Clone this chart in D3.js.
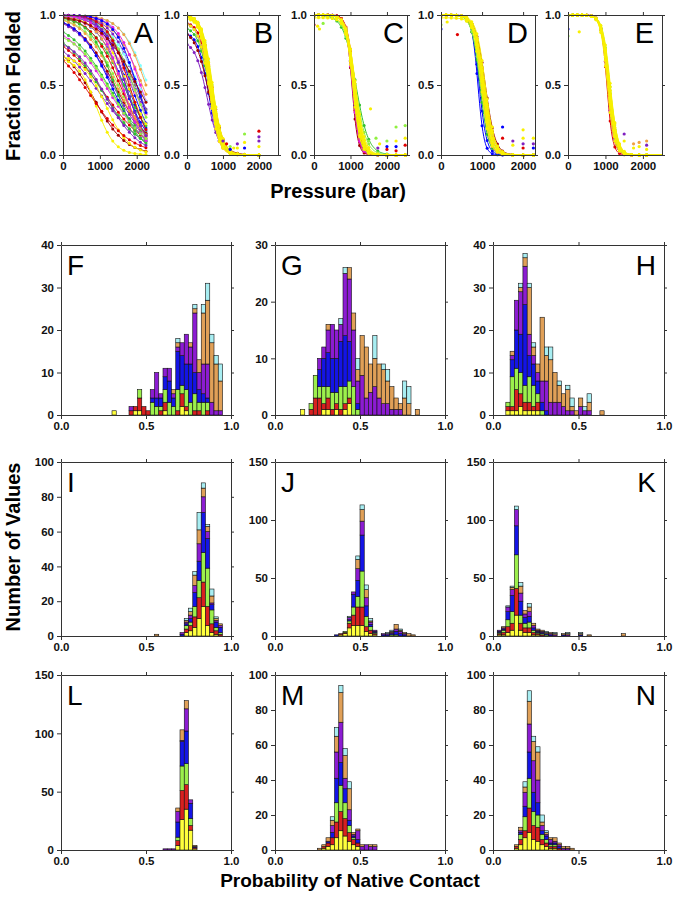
<!DOCTYPE html>
<html><head><meta charset="utf-8">
<script src="https://cdn.jsdelivr.net/npm/d3@7"></script>
<style>
body{margin:0;background:#fff;}
svg text{font-family:"Liberation Sans",Arial,Helvetica,sans-serif;}
.tick text{font-weight:bold;font-size:11.5px;fill:#111;}
.axis path,.axis line{stroke:#333;}
</style></head><body>
<svg id="c" width="677" height="903"></svg>
<script>
// ---------- histogram data: [binIndex, yellow, red, green, blue, purple, orange, cyan] ----------
const LAYER_COLORS = ["#ffff3c","#d82020","#9cef4c","#1414e6","#8c1cd2","#e0a058","#a8eef2"];
const BIN = 0.025;
const probTicks = [0, 0.5, 1];

const histF = [
 [12,1,0,0,0,0,0,0],[16,0,1,0,0,1,0,0],[17,1,1,0,0,0,0,0],[18,1,3,2,0,0,0,0],[19,0,2,0,0,0,0,0],
 [20,0,1,0,0,0,0,0],[21,0,0,3,1,2,0,0],[22,0,0,2,2,6,0,0],[23,0,1,1,2,1,0,0],[24,1,2,3,3,2,0,0],
 [25,0,0,3,5,3,0,0],[26,0,0,2,2,1,1,0],[27,0,1,5,9,1,1,1],[28,2,3,2,7,3,0,0],[29,1,1,4,6,7,0,0],
 [30,0,0,3,9,4,1,0],[31,0,1,4,5,14,1,1],[32,0,1,2,3,4,3,0],[33,0,0,3,2,7,12,2],[34,0,1,2,1,8,15,4],
 [35,0,0,0,0,3,14,2],[36,0,0,0,0,1,11,2],[37,0,0,0,0,1,7,4]
];
const histG = [
 [6,1,0,0,0,0,0,0],[8,0,1,1,0,0,0,0],[9,0,3,4,0,0,0,0],[10,0,3,2,3,2,0,0],[11,1,1,3,5,2,0,0],
 [12,1,2,2,6,4,1,0],[13,0,1,3,6,6,0,0],[14,1,1,2,6,5,0,0],[15,0,1,4,8,3,0,1],[16,1,1,3,9,11,0,1],
 [17,2,1,3,7,11,2,0],[18,0,0,5,0,10,3,0],[19,0,0,1,1,4,2,2],[20,0,0,0,0,7,7,0],[21,0,0,0,0,3,9,0],
 [22,0,0,0,0,4,5,0],[23,0,0,0,0,5,5,4],[24,0,0,0,0,3,6,0],[25,0,0,0,0,2,6,1],[26,0,0,0,0,2,4,2],
 [27,0,0,0,0,1,4,0],[28,0,0,0,0,1,2,0],[29,0,0,0,0,1,1,0],[30,0,0,0,0,0,3,3],[31,0,0,0,0,0,2,3],
 [33,0,0,0,0,0,1,0]
];
const histH = [
 [3,1,1,1,0,0,0,0],[4,1,1,7,4,1,1,0],[5,1,5,5,9,7,0,0],[6,2,3,5,9,10,1,1],[7,1,2,4,19,9,2,1],
 [8,1,2,6,5,5,11,1],[9,1,1,5,5,2,2,1],[10,1,2,2,3,2,2,0],[11,0,0,1,2,5,15,0],[12,0,0,0,1,7,6,2],
 [13,0,0,0,0,3,10,3],[14,0,0,0,0,3,7,0],[15,0,0,0,0,3,4,1],[16,0,0,0,0,2,3,0],[17,0,0,0,0,1,5,1],
 [18,0,0,0,0,1,1,2],[19,0,0,0,0,0,1,0],[20,0,0,0,0,2,2,0],[21,0,0,0,0,1,0,1],[22,0,0,0,0,1,2,2],
 [25,0,0,0,0,0,1,0]
];
const histI = [
 [22,0,0,0,0,0,1,0],[28,0,0,0,1,1,0,0],[29,2,2,2,1,1,1,1],[30,3,3,2,2,2,2,2],[31,5,6,6,8,4,6,2],
 [32,10,12,10,11,10,8,10],[33,17,14,17,23,9,5,3],[34,6,11,22,17,4,3,1],[35,2,5,8,3,1,4,4],
 [36,1,2,2,3,1,1,1],[37,0,1,1,3,1,1,0]
];
const histJ = [
 [14,0,0,0,1,0,0,0],[15,1,1,0,0,0,0,0],[16,2,1,1,0,0,0,0],[17,7,4,2,1,2,0,1],[18,9,9,7,11,2,0,0],
 [19,9,16,9,14,10,8,3],[20,9,16,31,31,12,10,4],[21,4,4,9,9,7,7,4],[22,2,3,3,2,2,1,2],[23,1,1,1,1,1,0,0],
 [25,0,0,0,1,1,0,0],[26,0,0,0,1,1,0,1],[27,0,0,1,1,1,1,1],[28,0,0,1,3,2,4,0],[29,0,0,0,2,2,1,1],
 [30,0,0,0,1,1,1,0],[31,0,0,0,0,0,2,0],[32,0,0,0,0,0,1,0]
];
const histK = [
 [1,1,1,1,1,1,0,0],[2,1,2,2,1,1,1,0],[3,3,5,6,7,4,0,1],[4,5,6,10,14,5,2,1],[5,18,23,29,25,14,0,3],
 [6,5,6,7,12,7,6,3],[7,3,4,4,5,3,3,0],[8,3,4,5,5,4,4,3],[9,1,2,2,2,2,2,0],[10,1,1,1,1,1,1,0],
 [11,0,1,1,1,1,1,0],[12,0,0,1,1,0,1,1],[13,0,0,0,1,1,1,0],[14,0,0,0,0,1,1,1],[16,0,0,0,1,0,1,0],
 [17,0,0,0,0,1,1,1],[20,0,0,0,1,0,1,1],[22,0,0,0,0,0,1,0],[30,0,0,0,0,0,2,0]
];
const histL = [
 [24,0,0,0,0,1,0,0],[25,0,0,0,0,1,0,0],[26,0,0,0,0,1,0,0],[27,4,4,3,13,9,3,0],
 [28,26,25,21,21,1,9,0],[29,35,21,18,28,19,7,0],[30,17,4,6,13,3,0,0],[31,1,1,0,1,0,1,0]
];
const histM = [
 [10,0,0,0,0,0,1,0],[11,1,1,0,0,0,1,0],[12,2,2,0,1,0,2,0],[13,3,4,0,3,4,3,2],[14,7,9,11,14,15,9,5],
 [15,11,11,15,13,23,17,4],[16,8,10,9,8,6,13,4],[17,5,5,4,3,6,12,4],[18,3,3,1,1,1,1,0],[19,2,2,0,2,5,1,0],
 [20,0,0,0,0,2,1,0],[21,0,0,0,0,3,0,0],[22,0,0,0,0,2,1,0],[23,0,0,0,0,2,1,0]
];
const histN = [
 [5,1,1,0,0,0,1,0],[6,3,3,3,1,1,2,0],[7,7,4,8,6,8,3,3],[8,10,14,17,15,16,13,6],[9,6,8,8,11,18,11,3],
 [10,5,8,7,7,13,16,3],[11,3,3,3,2,3,2,4],[12,2,2,2,2,1,1,1],[13,1,1,1,1,2,1,0],[14,1,1,1,1,1,2,0],
 [15,0,1,0,1,1,1,0],[16,0,0,0,0,1,1,0],[17,0,0,0,0,1,1,0],[18,0,0,0,0,0,1,0]
];
const ticks40 = [0,10,20,30,40];
const ticks30 = [0,10,20,30];
const ticks100 = [0,20,40,60,80,100];
const ticks150 = [0,50,100,150];

// ---------- unfolding curves: [color, plateau, midpoint pressure (bar), width (bar)] ----------
const R="#e00000", DR="#a00000", O="#f0a040", Y="#f8f000", G="#30c030", LG="#90f040",
      C="#80ffff", B="#0000ff", P="#8020c0", M="#e020e0", PK="#ff80c0", GR="#808080";
const pressureTicks = [0, 1000, 2000];
const fracTicks = [0, 0.5, 1];
const curvesA = [
 [C,1,2300,350],[O,1,2250,330],[O,1,2150,380],[M,1,2100,320],[P,1,2000,350],[P,1,1900,400],
 [B,1,1850,330],[B,1,1750,350],[B,1,1650,380],[B,1,1700,300],[G,1,1650,450],[LG,1,1500,450],
 [R,1,1550,400],[DR,1,1400,500],[O,1,1450,450],[P,1,1350,500],[Y,1,1750,400],[PK,1,1850,450],
 [GR,1,1950,400],[G,0.97,1250,550],[M,0.95,1200,550],[B,1,1300,450],[R,0.9,1100,600],[P,0.88,1000,600],
 [G,0.92,1050,550],[DR,0.8,850,420],[Y,0.7,900,250],[Y,0.72,1150,320],[R,0.85,750,550],[O,1,1600,350],
 [C,1,2050,420],[LG,1,1900,350],[B,1,2000,300],[R,1,1800,300],[P,1,1700,300],[G,1,1400,350],
 [M,1,1600,300],[DR,1,2000,500],[LG,0.9,1300,500],[P,0.85,1150,450]
];
const curvesB = [
 [O,1,680,140],[R,0.95,640,140],[B,0.88,600,150],[P,0.82,560,170],[P,0.95,620,150],[G,0.92,630,160],
 [C,1,700,140],[M,1,640,130],[DR,0.9,600,190],[PK,1,610,130],[LG,1,680,150],[GR,1,660,140],
 [B,1,670,130],[R,1,690,150],
 [Y,1,610,130],[Y,1,630,140],[Y,0.98,640,130],[Y,1,650,135],[Y,1,660,145],[Y,1,670,130],
 [Y,1,680,140],[Y,1,690,135],[Y,1,700,150],[Y,0.95,620,150],[Y,1,665,150],[Y,1,645,125],[Y,1,710,140]
];
const curvesC = [
 [DR,1,1040,80],[R,1,1060,85],[O,1,1080,100],[B,1,1070,95],[P,1,1090,100],[C,1,1110,110],
 [G,1,1150,170],[LG,1,1130,150],[M,1,1050,90],[GR,1,1100,100],[R,1,1100,95],[O,1,1120,105],
 [Y,1,1060,100],[Y,1,1080,110],[Y,1,1090,105],[Y,1,1100,115],[Y,1,1110,110],[Y,1,1120,120],
 [Y,1,1130,115],[Y,1,1070,100],[Y,1,1140,125],[Y,0.98,1095,110]
];
const curvesD = [
 [B,1,900,75],[B,1,930,90],[G,1,950,100],[P,1,1020,110],[P,1,1060,115],[R,1,1000,100],
 [O,1,1040,110],[C,1,1010,105],[M,1,990,95],[DR,1,1080,120],[LG,1,970,110],
 [Y,1,980,100],[Y,1,1000,105],[Y,1,1020,110],[Y,1,1040,105],[Y,1,1060,115],[Y,1,1080,110],
 [Y,1,1010,100],[Y,1,1050,120],[Y,0.98,1030,110]
];
const curvesE = [
 [R,1,1040,75],[DR,1,1060,85],[O,1,1080,95],[B,1,1070,90],[P,1,1090,95],[G,1,1100,100],
 [C,1,1110,95],[M,1,1060,85],[LG,1,1120,100],
 [Y,1,1050,90],[Y,1,1070,95],[Y,1,1080,90],[Y,1,1090,100],[Y,1,1100,95],[Y,1,1110,100],
 [Y,1,1120,105],[Y,1,1130,100],[Y,1,1085,95]
];
const sampA = [0,150,300,450,600,750,900,1050,1200,1350,1500,1650,1800,1950,2100,2250];
const sampB = [0,100,200,300,400,500,600,700,800,900,1000,1200,1400,1600,2000];
const sampC = [0,125,250,375,500,625,750,875,1000,1125,1250,1375,1500,1750,2000,2250,2500];
const sampD = [0,125,250,375,500,625,750,875,1000,1125,1250,1375,1500,1750,2000,2250];
const sampE = [0,125,250,375,500,625,750,875,1000,1125,1250,1375,1500,1700,1900,2100];
// measured points off the fitted curves: [pressure, fraction, color]
const dotsB = [[1200,0.06,LG],[1200,0.04,B],[1400,0.08,P],[1400,0.05,Y],[1600,0.15,LG],[1600,0.09,Y],
 [1600,0.05,B],[2000,0.17,R],[2000,0.13,P],[2000,0.1,P],[2000,0.06,Y],[1000,0.1,P],[1100,0.08,R],[1300,0.05,Y]];
const dotsC = [[1550,0.33,Y],[1500,0.1,LG],[1700,0.12,LG],[1800,0.08,Y],[2000,0.1,LG],[2000,0.06,B],
 [2250,0.2,LG],[2250,0.1,Y],[2250,0.06,B],[2500,0.21,LG],[2500,0.12,Y],[2500,0.07,R],[1750,0.05,P],
 [2000,0.04,R],[2250,0.03,R],[0,0.93,R],[100,0.92,Y],[250,0.94,LG],[150,0.9,Y]];
const dotsD = [[1500,0.2,B],[1500,0.12,R],[1750,0.1,P],[1750,0.07,Y],[2000,0.12,Y],[2000,0.08,P],
 [2000,0.05,R],[2000,0.18,Y],[2250,0.12,Y],[2250,0.08,P],[2250,0.05,B],[1250,0.2,Y],[400,0.86,R],
 [0,0.9,B],[0,0.93,LG],[150,0.95,Y]];
const dotsE = [[1500,0.15,P],[1500,0.1,Y],[1750,0.08,O],[1750,0.05,Y],[1900,0.09,O],[1900,0.06,Y],
 [2100,0.1,O],[2100,0.07,P],[2100,0.04,Y],[0,0.85,LG],[0,0.9,B],[300,0.88,Y]];

// ---------- drawing ----------
const svg = d3.select("#c");
const fmt1 = d3.format(".1f");

function styleAxis(sel){ sel.attr("class","axis").attr("font-family",null).attr("font-size",null); }

const topPanels = [
 {letter:"A", left:63, right:157, pmax:2550, curves:curvesA, samples:sampA, pEnd:2250, dots:[], lx:153},
 {letter:"B", left:187, right:278, pmax:2530, curves:curvesB, samples:sampB, pEnd:2000, dots:dotsB, lx:273},
 {letter:"C", left:314, right:407, pmax:2550, curves:curvesC, samples:sampC, pEnd:2500, dots:dotsC, lx:404},
 {letter:"D", left:441, right:535, pmax:2290, curves:curvesD, samples:sampD, pEnd:2250, dots:dotsD, lx:528},
 {letter:"E", left:568, right:662, pmax:2510, curves:curvesE, samples:sampE, pEnd:2500, dots:dotsE, lx:654}
];
const yT = d3.scaleLinear().domain([0,1]).range([155,15]);
topPanels.forEach(p => {
  const x = d3.scaleLinear().domain([0,p.pmax]).range([p.left,p.right]);
  const g = svg.append("g");
  const cid = "clip" + p.letter;
  svg.append("clipPath").attr("id",cid).append("rect")
     .attr("x",p.left).attr("y",12).attr("width",p.right-p.left).attr("height",146);
  const cg = g.append("g").attr("clip-path",`url(#${cid})`);
  p.curves.forEach(c => {
    const [col, top, pm, w] = c;
    const f = q => top/(1+Math.exp((q-pm)/w));
    const pts = d3.range(0, p.pEnd+1, 20);
    cg.append("path").attr("d", d3.line().x(q=>x(q)).y(q=>yT(f(q)))(pts))
      .attr("fill","none").attr("stroke",col).attr("stroke-width",1);
    cg.append("g").selectAll("circle").data(p.samples).join("circle")
      .attr("cx",q=>x(q)).attr("cy",q=>yT(f(q))).attr("r",1.5).attr("fill",col);
  });
  cg.append("g").selectAll("circle").data(p.dots).join("circle")
    .attr("cx",d=>x(d[0])).attr("cy",d=>yT(d[1])).attr("r",1.6).attr("fill",d=>d[2]);
  g.append("g").attr("transform","translate(0,155)")
    .call(d3.axisBottom(x).tickValues(pressureTicks).tickSize(4).tickSizeOuter(0).tickFormat(d3.format("d"))).call(styleAxis);
  g.append("g").attr("transform","translate(0,15)")
    .call(d3.axisTop(x).tickValues(pressureTicks).tickSize(3).tickSizeOuter(0).tickFormat("")).call(styleAxis);
  g.append("g").attr("transform",`translate(${p.left},0)`)
    .call(d3.axisLeft(yT).tickValues(fracTicks).tickSize(4).tickSizeOuter(0).tickFormat(fmt1)).call(styleAxis);
  g.append("g").attr("transform",`translate(${p.right},0)`)
    .call(d3.axisRight(yT).tickValues(fracTicks).tickSize(3).tickSizeOuter(0).tickFormat("")).call(styleAxis);
  g.append("text").attr("x",p.lx).attr("y",43).attr("text-anchor","end")
    .attr("font-size",29).text(p.letter);
});

const cols = [{l:61,r:231},{l:275,r:445},{l:493,r:664}];
const rows = [{t:245,b:415},{t:462,b:636},{t:675,b:850}];
const histPanels = [
 {letter:"F", data:histF, ticks:ticks40, c:0, r:0, side:"left"},
 {letter:"G", data:histG, ticks:ticks30, c:1, r:0, side:"left"},
 {letter:"H", data:histH, ticks:ticks40, c:2, r:0, side:"right"},
 {letter:"I", data:histI, ticks:ticks100, c:0, r:1, side:"left"},
 {letter:"J", data:histJ, ticks:ticks150, c:1, r:1, side:"left"},
 {letter:"K", data:histK, ticks:ticks150, c:2, r:1, side:"right"},
 {letter:"L", data:histL, ticks:ticks150, c:0, r:2, side:"left"},
 {letter:"M", data:histM, ticks:ticks100, c:1, r:2, side:"left"},
 {letter:"N", data:histN, ticks:ticks100, c:2, r:2, side:"right"}
];
histPanels.forEach(p => {
  const cl = cols[p.c], rw = rows[p.r];
  const x = d3.scaleLinear().domain([0,1]).range([cl.l, cl.r]);
  const y = d3.scaleLinear().domain([0, d3.max(p.ticks)]).range([rw.b, rw.t]);
  const g = svg.append("g");
  const rects = [];
  p.data.forEach(row => {
    let cum = 0;
    for (let i = 0; i < 7; i++) {
      const v = row[i+1];
      if (v > 0) { rects.push({x0:row[0]*BIN, x1:(row[0]+1)*BIN, y0:cum, y1:cum+v, col:LAYER_COLORS[i]}); cum += v; }
    }
  });
  g.append("g").selectAll("rect").data(rects).join("rect")
    .attr("x",d=>x(d.x0)).attr("width",d=>x(d.x1)-x(d.x0))
    .attr("y",d=>y(d.y1)).attr("height",d=>y(d.y0)-y(d.y1))
    .attr("fill",d=>d.col).attr("stroke","#111").attr("stroke-width",0.6);
  g.append("g").attr("transform",`translate(0,${rw.b})`)
    .call(d3.axisBottom(x).tickValues(probTicks).tickSize(4).tickSizeOuter(0).tickFormat(fmt1)).call(styleAxis);
  g.append("g").attr("transform",`translate(0,${rw.t})`)
    .call(d3.axisTop(x).tickValues(probTicks).tickSize(3).tickSizeOuter(0).tickFormat("")).call(styleAxis);
  g.append("g").attr("transform",`translate(${cl.l},0)`)
    .call(d3.axisLeft(y).tickValues(p.ticks).tickSize(4).tickSizeOuter(0).tickFormat(d3.format("d"))).call(styleAxis);
  g.append("g").attr("transform",`translate(${cl.r},0)`)
    .call(d3.axisRight(y).tickValues(p.ticks).tickSize(3).tickSizeOuter(0).tickFormat("")).call(styleAxis);
  const lt = g.append("text").attr("y", rw.t + 30).attr("font-size",28).text(p.letter);
  if (p.side === "left") lt.attr("x", cl.l + 6).attr("text-anchor","start");
  else lt.attr("x", cl.r - 8).attr("text-anchor","end");
});

// axis titles
svg.append("text").attr("transform","translate(20,86) rotate(-90)").attr("text-anchor","middle")
  .attr("font-size",20).attr("font-weight","bold").text("Fraction Folded");
svg.append("text").attr("x",338).attr("y",198).attr("text-anchor","middle")
  .attr("font-size",20).attr("font-weight","bold").text("Pressure (bar)");
svg.append("text").attr("transform","translate(20,547) rotate(-90)").attr("text-anchor","middle")
  .attr("font-size",20).attr("font-weight","bold").text("Number of Values");
svg.append("text").attr("x",350).attr("y",887).attr("text-anchor","middle")
  .attr("font-size",19).attr("font-weight","bold").text("Probability of Native Contact");
</script></body></html>
